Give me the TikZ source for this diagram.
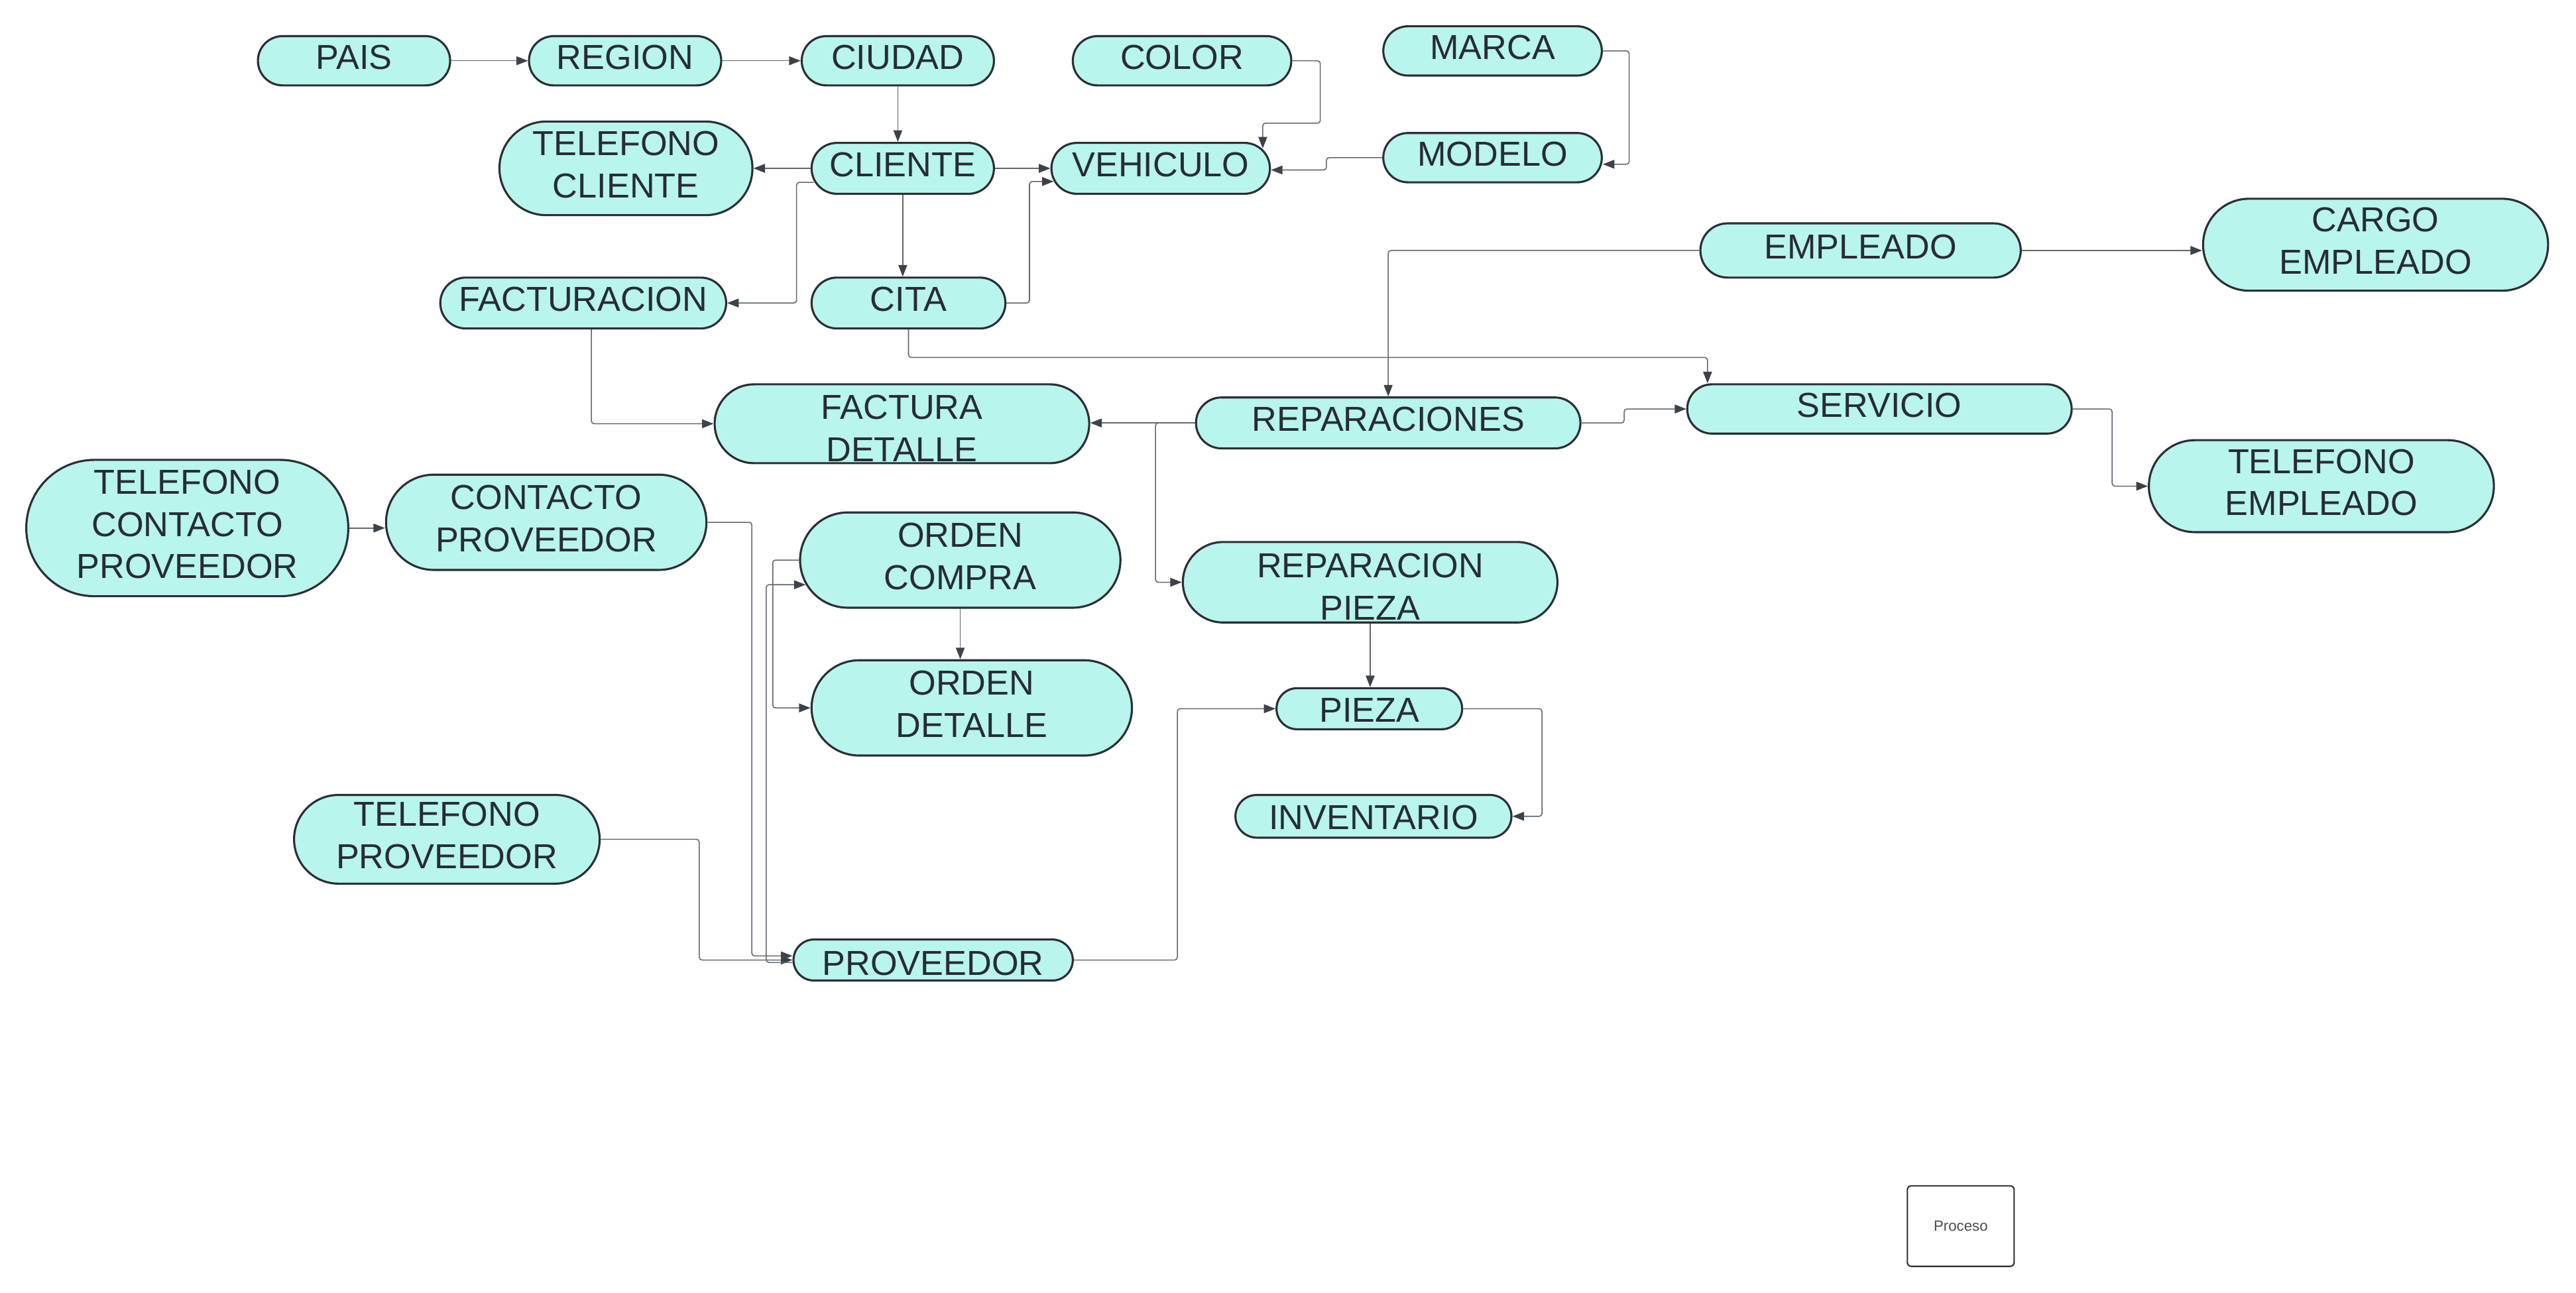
\documentclass[tikz,border=0pt]{standalone}
\usepackage{fontspec}
\setmainfont{Liberation Sans}
\usetikzlibrary{arrows.meta}
\definecolor{entfill}{HTML}{B8F5EC}
\definecolor{entdraw}{HTML}{2B2F36}
\definecolor{txtc}{HTML}{282C33}
\definecolor{lnc}{HTML}{62676F}
\definecolor{tipc}{HTML}{3D424A}
\begin{document}
\begin{tikzpicture}[x=0.25mm,y=-0.25mm,
  ent/.style 2 args={draw=entdraw, fill=entfill, line width=0.9pt, rectangle, inner sep=0pt,
    minimum width=#1*0.25mm, minimum height=#2*0.25mm, rounded corners=#2*0.125mm,
    align=center, text=txtc, text depth=3.4pt, font=\fontsize{15}{18.3}\selectfont},
  dn/.style={text depth=0pt, text height=#1},
  conn/.style={draw=lnc, line width=0.45pt, rounded corners=1.2pt,
    -{Triangle[length=5pt,width=3.8pt,color=tipc]}},
  procbox/.style={draw=entdraw, line width=0.6pt, fill=white, rounded corners=0.6mm,
    minimum width=65*0.25mm, minimum height=49*0.25mm, inner sep=0pt,
    text=txtc!85, font=\fontsize{6.4}{7.6}\selectfont}
]
\fill[white] (0,0) rectangle (1568,787);
\useasboundingbox (0,0) rectangle (1568,787);

% nodes
\node[ent={117}{30}] (pais)    at (215.5,37)  {PAIS};
\node[ent={117}{30}] (region)  at (380.5,37)  {REGION};
\node[ent={117}{30}] (ciudad)  at (546.5,37)  {CIUDAD};
\node[ent={133}{30}] (color)   at (719.5,37)  {COLOR};
\node[ent={133}{30}] (marca)   at (908.5,31)  {MARCA};
\node[ent={133}{30}] (modelo)  at (908.5,96)  {MODELO};
\node[ent={154}{57}] (telcli)  at (381,102.5) {TELEFONO\\CLIENTE};
\node[ent={111}{31}] (cli)     at (549.5,102.5) {CLIENTE};
\node[ent={133}{31}] (veh)     at (706.5,102.5) {VEHICULO};
\node[ent={174}{31}] (factu)   at (355,184.5) {FACTURACION};
\node[ent={118}{31}] (cita)    at (553,184.5) {CITA};
\node[ent={195}{33}] (emp)     at (1132.5,152.5) {EMPLEADO};
\node[ent={210}{56}] (cargo)   at (1446,149) {CARGO\\EMPLEADO};
\node[ent={228}{48}, dn=32.8pt] (factdet) at (549,258) {FACTURA\\DETALLE};
\node[ent={234}{31}] (repar)   at (845,257.5) {REPARACIONES};
\node[ent={234}{30}] (serv)    at (1144,249) {SERVICIO};
\node[ent={210}{56}] (telemp)  at (1413,296) {TELEFONO\\EMPLEADO};
\node[ent={196}{83}] (telcp)   at (114,321.5) {TELEFONO\\CONTACTO\\PROVEEDOR};
\node[ent={195}{58}] (contp)   at (332.5,318) {CONTACTO\\PROVEEDOR};
\node[ent={195}{58}] (ordc)    at (584.5,341) {ORDEN\\COMPRA};
\node[ent={228}{49}, dn=32.8pt] (reppz)   at (834,354.5) {REPARACION\\PIEZA};
\node[ent={195}{58}] (ordd)    at (591.5,431) {ORDEN\\DETALLE};
\node[ent={113}{25}, dn=11.6pt] (pieza)   at (833.5,431.5) {PIEZA};
\node[ent={168}{26}, dn=11.6pt] (inv)     at (836,497) {INVENTARIO};
\node[ent={186}{54}] (telprov) at (272,511) {TELEFONO\\PROVEEDOR};
\node[ent={170}{25}, dn=13pt] (prov)    at (568,584.5) {PROVEEDOR};
\node[procbox] (proc) at (1193.5,746.5) {Proceso};

% connectors
\draw[conn] (pais.east) -- (region.west);
\draw[conn] (region.east) -- (ciudad.west);
\draw[conn] (ciudad.south) -- (ciudad.south |- cli.north);
\draw[conn] (color.east) -| ++(17,38) -| ([shift={(-5,4)}]veh.north east);
\draw[conn] (marca.east) -- ++(16,0) |- ([shift={(0,4)}]modelo.east);
\draw[conn] (modelo.west) -- ++(-34,0) |- ([shift={(0,1)}]veh.east);
\draw[conn] (cli.east) -- (veh.west);
\draw[conn] (cli.west) -- (telcli.east);
\draw[conn] ([shift={(2,8.5)}]cli.west) -- ++(-10.5,0) |- (factu.east);
\draw[conn] (cli.south) -- (cli.south |- cita.north);
\draw[conn] (cita.east) -- ++(14,0) |- ([shift={(2,8)}]veh.west);
\draw[conn] (cita.south) -- ++(0,17) -| ([shift={(13,0)}]serv.north west);
\draw[conn] (emp.west) -| (repar.north);
\draw[conn] (emp.east) -- (cargo.west |- emp.east);
\draw[conn] (repar.east) -- ++(26,0) |- (serv.west);
\draw[conn] (serv.east) -- ++(24,0) |- (telemp.west);
\draw[conn] (repar.west) -- (factdet.east |- repar.west);
\draw[conn] (repar.west) -- ++(-24,0) |- (reppz.west);
\draw[conn] ([shift={(5,0)}]factu.south) |- (factdet.west);
\draw[conn] (telcp.east) -- (contp.west |- telcp.east);
\draw[conn] (contp.east) -- ++(27,0) |- ([shift={(0,-2.5)}]prov.west);
\draw[conn] (telprov.east) -- ++(60,0) |- (prov.west);
\draw[conn] (ordc.south) -- (ordc.south |- ordd.north);
\draw[conn] (ordc.west) -- ++(-16,0) |- (ordd.west);
\draw[conn] ([shift={(0,1.5)}]prov.west) -- ++(-16,0) |- ([shift={(4,15)}]ordc.west);
\draw[conn] (prov.east) -- ++(63,0) |- (pieza.west);
\draw[conn] (reppz.south) -- (reppz.south |- pieza.north);
\draw[conn] (pieza.east) -- ++(48,0) |- (inv.east);
\end{tikzpicture}
\end{document}
